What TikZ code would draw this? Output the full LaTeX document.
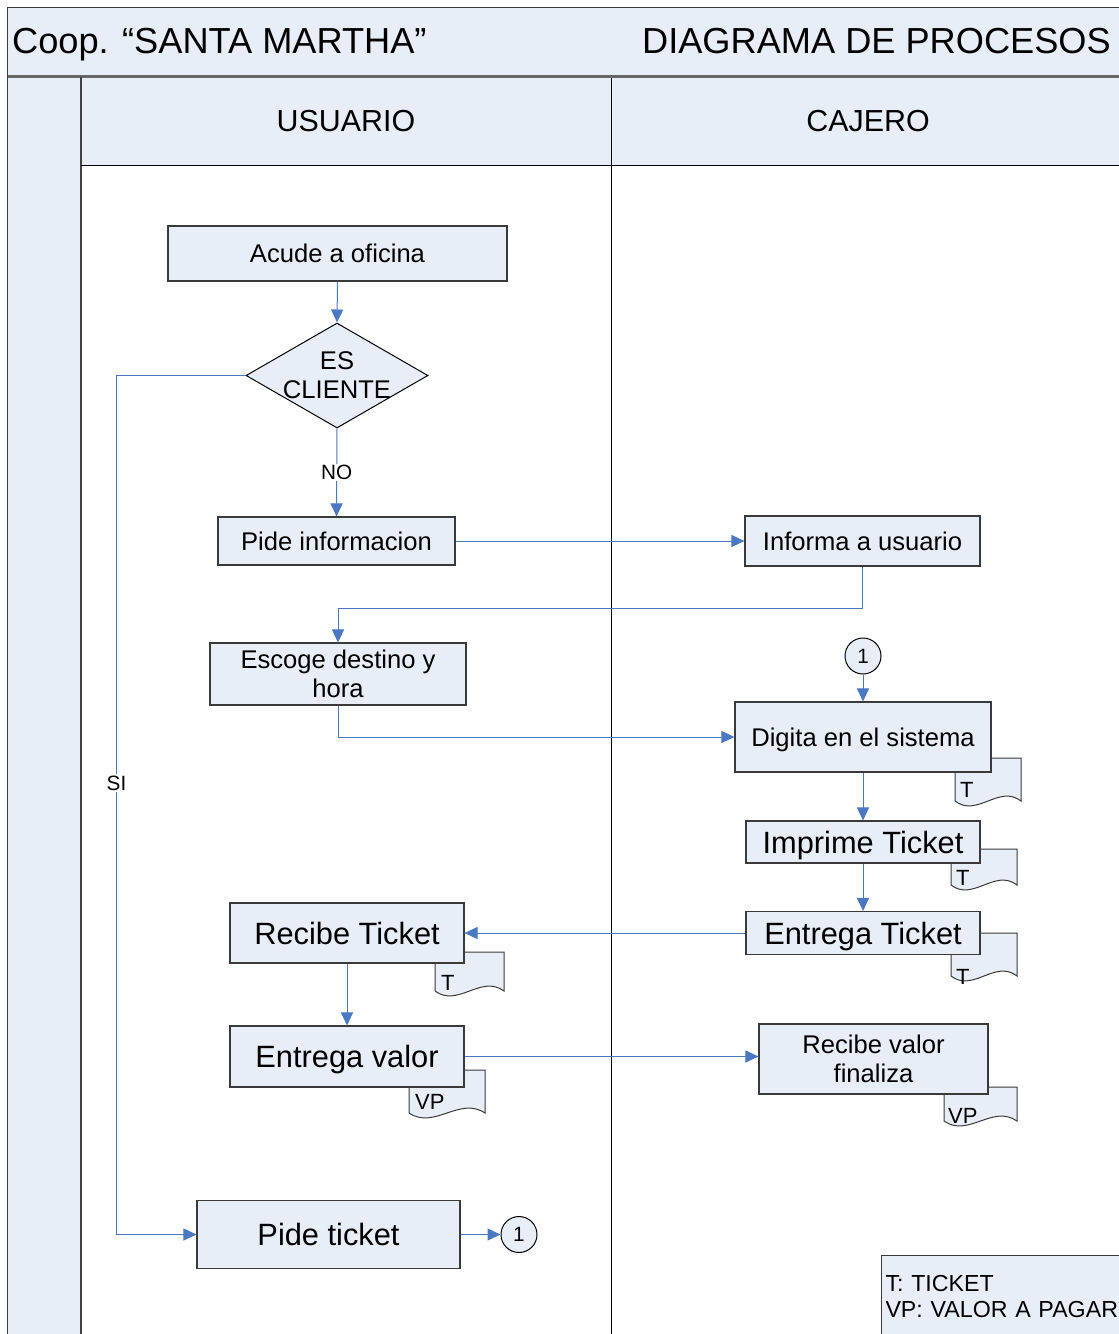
\documentclass[tikz,border=0pt]{standalone}
\usepackage{fontspec}
\setmainfont{Liberation Sans}
\usetikzlibrary{arrows.meta,shapes.geometric,calc}

\definecolor{paneblue}{HTML}{E8EEF7}
\definecolor{flowblue}{HTML}{4A78C2}
\definecolor{edgegray}{HTML}{3A3A3A}

\tikzset{
  x=1pt, y=-1pt,
  % text sizes; text height = cap height so the capitals sit centred
  t20/.style={font=\fontsize{20.7}{24}\selectfont, text height=14.8pt, text depth=0pt},
  t25/.style={font=\fontsize{25.6}{29}\selectfont, text height=18.3pt, text depth=0pt},
  t25two/.style={font=\fontsize{25.6}{29}\selectfont, align=center},
  t30/.style={font=\fontsize{30.4}{34}\selectfont, text height=21.8pt, text depth=0pt},
  t31/.style={font=\fontsize{30.8}{35}\selectfont, text height=22pt, text depth=0pt},
  box/.style={draw=edgegray, line width=1.1pt, fill=paneblue, inner sep=0pt, align=center},
  decision/.style={diamond, draw=black, line width=1pt, fill=paneblue, inner sep=0pt,
    minimum width=182pt, minimum height=105pt},
  linkdot/.style={circle, draw=black, line width=1pt, fill=paneblue, inner sep=0pt,
    minimum size=36pt, t20},
  docsheet/.style={draw=edgegray, line width=1pt, fill=paneblue},
  doclabel/.style={anchor=base west, inner sep=0pt, font=\fontsize{22}{25}\selectfont},
  flow/.style={draw=flowblue, line width=1pt, -{Triangle[length=13pt,width=12pt]}},
  flowtag/.style={fill=white, inner sep=1.5pt, t20}
}

% sheet with a wavy lower edge: x1, y1 (top), x2, y2 (bottom)
\newcommand\docsheet[4]{%
  \path[docsheet] (#1,#2) -- (#3,#2) -- (#3,#4)
    .. controls ({#3-(#3-#1)/3},{#4-17}) and ({#1+(#3-#1)/3},{#4+17}) .. (#1,#4) -- cycle;}

\begin{document}
\begin{tikzpicture}
\useasboundingbox (0,0) rectangle (1119,1334);

% ---------- frame and lane headers ----------
\fill[paneblue] (8,8) rectangle (1130,76);
\fill[paneblue] (8,76) rectangle (81,1340);
\fill[paneblue] (81,78) rectangle (1130,165);
\draw[edgegray, line width=1.5pt] (1130,7.5) -- (7.5,7.5) -- (7.5,1340);
\draw[black!60, line width=2.5pt] (7.5,76.5) -- (1130,76.5);
\draw[black!75, line width=2pt] (81,77) -- (81,1340);
\draw[black, line width=1pt] (81,165) -- (1130,165);
\draw[black, line width=1pt] (611,77.5) -- (611,1340);

\node[anchor=base west, inner sep=0pt, font=\fontsize{36.2}{40}\selectfont] (coop) at (12,53)
  {Coop. “SANTA MARTHA”};
\node[anchor=base east, inner sep=0pt, font=\fontsize{36.2}{40}\selectfont] (titulo) at (1111,53)
  {DIAGRAMA DE PROCESOS};
\node[t30, inner sep=0pt] (usuario) at (346,121) {USUARIO};
\node[t30, inner sep=0pt] (cajero) at (868,121) {CAJERO};

% ---------- ticket / payment sheets (behind the boxes) ----------
\docsheet{955}{758}{1021}{801}
\node[doclabel] (docA) at (960,797) {T};
\docsheet{951}{849}{1017}{885}
\node[doclabel] (docB) at (956,885) {T};
\docsheet{951}{933}{1017}{976}
\node[doclabel] (docC) at (956,984) {T};
\docsheet{435}{952}{504}{991}
\node[doclabel] (docD) at (441,990) {T};
\docsheet{409}{1070}{485}{1113}
\node[doclabel] (docE) at (415,1109) {VP};
\docsheet{944}{1087}{1017}{1121}
\node[doclabel] (docF) at (948,1123) {VP};

% ---------- process steps ----------
\node[box, t25, minimum width=339pt, minimum height=55pt] (acude) at (337.5,253.5) {Acude a oficina};
\node[decision, label={[t25two, inner sep=0pt]center:{ES\\CLIENTE}}] (cliente) at (337,375.5) {};
\node[box, t25, minimum width=237pt, minimum height=48pt] (pideinfo) at (336.5,541) {Pide informacion};
\node[box, t25, minimum width=235pt, minimum height=50pt] (informa) at (862.5,541) {Informa a usuario};
\node[box, t25two, minimum width=256pt, minimum height=62pt] (escoge) at (338,674) {Escoge destino y\\hora};
\node[linkdot] (enlaceA) at (863,656) {1};
\node[box, t25, minimum width=256pt, minimum height=70pt] (digita) at (863,737) {Digita en el sistema};
\node[box, t31, minimum width=234pt, minimum height=42pt] (imprime) at (863,842) {Imprime Ticket};
\node[box, t31, minimum width=234pt, minimum height=43pt] (entregat) at (863,933) {Entrega Ticket};
\node[box, t31, minimum width=234pt, minimum height=60pt] (recibet) at (347,933) {Recibe Ticket};
\node[box, t31, minimum width=234pt, minimum height=61pt] (entregav) at (347,1056.5) {Entrega valor};
\node[box, t25two, minimum width=229pt, minimum height=70pt] (recibev) at (873.5,1059) {Recibe valor\\finaliza};
\node[box, t31, minimum width=263pt, minimum height=68pt] (pideticket) at (328.5,1234.5) {Pide ticket};
\node[linkdot] (enlaceB) at (519,1234.5) {1};

% ---------- legend ----------
\node[draw=edgegray, line width=1pt, fill=paneblue, anchor=north west, minimum height=82pt,
  text width=240pt, inner xsep=4pt, inner ysep=0pt, align=left,
  font=\fontsize{23.2}{26.5}\selectfont] (leyenda) at (881,1255)
  {T: TICKET\\VP: VALOR A PAGAR};

% ---------- connectors ----------
\draw[flow] (acude.south) -- (cliente.north);
\draw[flow] (cliente.south) -- node[flowtag] {NO} (pideinfo.north);
\draw[flow] (cliente.west) -- ++(-129,0) |- node[flowtag, pos=0.237] {SI} (pideticket.west);
\draw[flow] (pideinfo.east) -- (informa.west);
\draw[flow] (informa.south) -- ++(0,42) -| (escoge.north);
\draw[flow] (escoge.south) |- (digita.west);
\draw[flow] (enlaceA.south) -- (digita.north);
\draw[flow] (digita.south) -- (imprime.north);
\draw[flow] (imprime.south) -- (entregat.north);
\draw[flow] (entregat.west) -- (recibet.east);
\draw[flow] (recibet.south) -- (entregav.north);
\draw[flow] (entregav.east) -- (recibev.west |- entregav.east);
\draw[flow] (pideticket.east) -- (enlaceB.west);
\end{tikzpicture}
\end{document}
